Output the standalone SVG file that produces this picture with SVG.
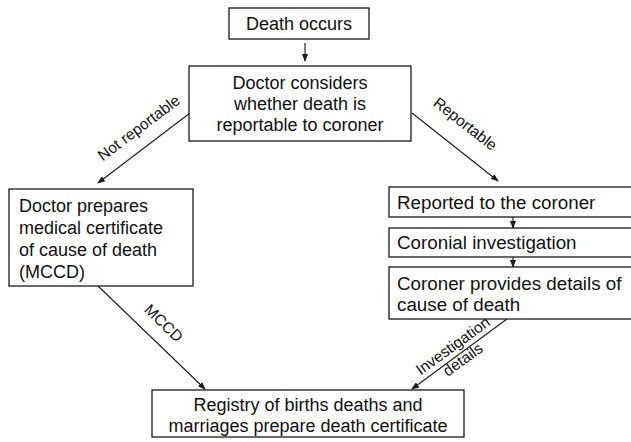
<svg xmlns="http://www.w3.org/2000/svg" width="631" height="442" viewBox="0 0 631 442">
<style>
.box{fill:#fff;stroke:#1a1a1a;stroke-width:1.3}
.t{font-family:"Liberation Sans",Arial,sans-serif;font-size:18px;fill:#111}
.r{font-size:18.8px}
.c{text-anchor:middle}
.lbl{font-family:"Liberation Sans",Arial,sans-serif;font-size:15.5px;fill:#111;text-anchor:middle}
.ln{stroke:#1a1a1a;stroke-width:1.1;fill:none;marker-end:url(#ah)}
</style>
<defs>
<marker id="ah" markerWidth="8" markerHeight="6" refX="7" refY="3" orient="auto" markerUnits="userSpaceOnUse">
<path d="M0,0 L8,3 L0,6 Z" fill="#1a1a1a"/>
</marker>
</defs>
<rect width="631" height="442" fill="#fff"/>
<g id="connectors">
<line class="ln" x1="305" y1="43" x2="305" y2="61"/>
<line class="ln" x1="190" y1="113" x2="98" y2="183"/>
<line class="ln" x1="412" y1="113" x2="498" y2="181"/>
<line class="ln" x1="513" y1="217" x2="513" y2="228"/>
<line class="ln" x1="513" y1="257" x2="513" y2="267"/>
<line class="ln" x1="98" y1="286" x2="205" y2="389"/>
<line class="ln" x1="507" y1="319" x2="412" y2="389"/>
<text class="lbl" transform="translate(142,132) rotate(-37)">Not reportable</text>
<text class="lbl" transform="translate(462,128) rotate(38)">Reportable</text>
<text class="lbl" transform="translate(160,327) rotate(44)">MCCD</text>
<text class="lbl" transform="translate(456,350) rotate(-36)"><tspan x="0" y="0">Investigation</tspan><tspan x="0" y="17">details</tspan></text>
</g>
<g id="death-occurs">
<rect class="box" x="229" y="8" width="140" height="31"/>
<text class="t c" x="299" y="30">Death occurs</text>
</g>
<g id="doctor-considers">
<rect class="box" x="189" y="66" width="222" height="75"/>
<text class="t c" x="300" y="89">Doctor considers</text>
<text class="t c" x="300" y="110">whether death is</text>
<text class="t c" x="300" y="131">reportable to coroner</text>
</g>
<g id="doctor-prepares">
<rect class="box" x="9" y="189" width="184" height="97"/>
<text class="t" x="19" y="212">Doctor prepares</text>
<text class="t" x="19" y="234">medical certificate</text>
<text class="t" x="19" y="256">of cause of death</text>
<text class="t" x="19" y="278">(MCCD)</text>
</g>
<g id="reported">
<rect class="box" x="389" y="187" width="260" height="30"/>
<text class="t r" x="397" y="209">Reported to the coroner</text>
</g>
<g id="coronial-investigation">
<rect class="box" x="389" y="228" width="260" height="29"/>
<text class="t r" x="397" y="249">Coronial investigation</text>
</g>
<g id="coroner-provides">
<rect class="box" x="389" y="267" width="260" height="52"/>
<text class="t r" x="397" y="290">Coroner provides details of</text>
<text class="t r" x="397" y="311">cause of death</text>
</g>
<g id="registry">
<rect class="box" x="152" y="390" width="312" height="47"/>
<text class="t c" x="308" y="411">Registry of births deaths and</text>
<text class="t c" x="308" y="432">marriages prepare death certificate</text>
</g>
</svg>
